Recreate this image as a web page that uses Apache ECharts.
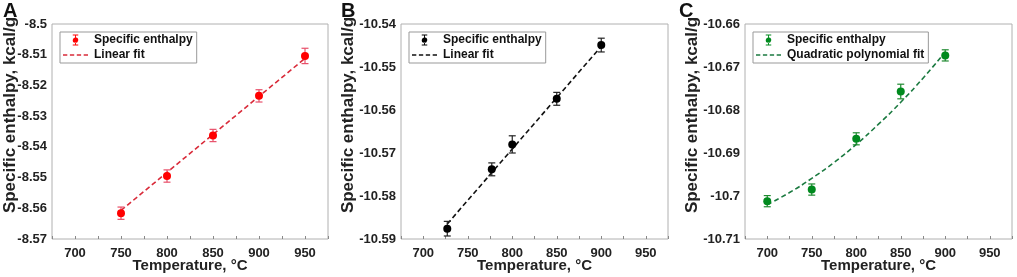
<!DOCTYPE html>
<html>
    <head>
        <meta charset="utf-8" />
        <title>ECharts</title>
        <script src="https://cdn.jsdelivr.net/npm/echarts@6/dist/echarts.min.js"></script>
    </head>
    <body style="margin:0">
        <div id="main" style="width: 1017px;height: 277px;"></div>
        <script type="text/javascript">
            const xTicks = [700, 750, 800, 850, 900, 950];

            // panel A
            const tempA = [750, 800, 850, 900, 950];
            const enthA = [-8.5616, -8.5495, -8.5363, -8.5234, -8.5104];
            const errA = [0.002, 0.002, 0.002, 0.002, 0.0025];
            const fitA = [[750, -8.5607], [950, -8.5112]];

            // panel B
            const tempB = [727, 777, 800, 850, 900];
            const enthB = [-10.5876, -10.5738, -10.568, -10.5574, -10.5449];
            const errB = [0.0017, 0.0015, 0.002, 0.0015, 0.0016];
            const fitB = [[727, -10.5865], [900, -10.5452]];

            // panel C
            const tempC = [700, 750, 800, 850, 900];
            const enthC = [-10.7012, -10.6985, -10.6867, -10.6757, -10.6673];
            const errC = [0.0013, 0.0013, 0.0014, 0.0017, 0.0013];
            const fitC = [[700, -10.702], [725, -10.6992], [750, -10.6959], [775, -10.6922], [800, -10.688],
                          [825, -10.6833], [850, -10.6782], [875, -10.6726], [900, -10.6665]];

            const myChart = echarts.init(document.getElementById('main'));

            const font = 'Liberation Sans, Arial, sans-serif';
            const dashIcon = 'path://M0,0h5v2h-5z M8,0h5v2h-5z M16,0h5v2h-5z M24,0h5v2h-5z';
            const markIcon = 'path://M3,0h6v1h-2.5v2.2a3,3 0 1 1 -1,0v-2.2h-2.5z M5.5,8.8v2.2h-2.5v1h6v-1h-2.5v-2.2z';

            const panels = [
                { left: 52, width: 276, ymin: -8.57, ymax: -8.5, temp: tempA, enth: enthA, err: errA, fit: fitA,
                  color: '#ff0000', errColor: '#e8506a', lineColor: '#d92b3a', fitName: 'Linear fit', letter: 'A', lx: 3, tx: 10 },
                { left: 401, width: 267, ymin: -10.59, ymax: -10.54, temp: tempB, enth: enthB, err: errB, fit: fitB,
                  color: '#000000', errColor: '#222222', lineColor: '#111111', fitName: 'Linear fit', letter: 'B', lx: 341, tx: 348 },
                { left: 745, width: 267, ymin: -10.71, ymax: -10.66, temp: tempC, enth: enthC, err: errC, fit: fitC,
                  color: '#008a1e', errColor: '#1f8a30', lineColor: '#1b7a40', fitName: 'Quadratic polynomial fit', letter: 'C', lx: 679, tx: 692 }
            ];

            const fmt = (v) => (+v.toFixed(2)).toString();

            const grid = [], xAxis = [], yAxis = [], series = [], legend = [], graphic = [];

            panels.forEach((p, i) => {
                grid.push({ left: p.left, top: 24, width: p.width, height: 215, show: true, borderColor: '#b0b0b0', borderWidth: 1,
                            backgroundColor: '#fff', outerBoundsMode: 'none', containLabel: false });
                xAxis.push({
                    type: 'value', gridIndex: i, min: 675, max: 975, interval: 25,
                    axisLine: { show: false },
                    axisTick: { show: true, inside: true, length: 3, lineStyle: { color: '#888' }, interval: 0 },
                    splitLine: { show: false },
                    axisLabel: {
                        color: '#222', fontFamily: font, fontWeight: 'bold', fontSize: 13, margin: 8,
                        formatter: (v) => xTicks.indexOf(v) >= 0 ? String(v) : ''
                    },
                    name: 'Temperature, °C', nameLocation: 'middle', nameGap: 19, nameMoveOverlap: false,
                    nameTextStyle: { color: '#222', fontFamily: font, fontWeight: 'bold', fontSize: 15 }
                });
                yAxis.push({
                    type: 'value', gridIndex: i, min: p.ymin, max: p.ymax, interval: 0.01,
                    axisLine: { show: false },
                    axisTick: { show: false },
                    splitLine: { show: false },
                    axisLabel: { color: '#222', fontFamily: font, fontWeight: 'bold', fontSize: 13, margin: 5, formatter: fmt },
                });
                series.push({
                    type: 'custom', xAxisIndex: i, yAxisIndex: i, silent: true, z: 4,
                    data: p.temp.map((t, k) => [t, p.enth[k] - p.err[k], p.enth[k] + p.err[k]]),
                    renderItem: (params, api) => {
                        const lo = api.coord([api.value(0), api.value(1)]);
                        const hi = api.coord([api.value(0), api.value(2)]);
                        const w = 3.5;
                        const st = { stroke: p.errColor, lineWidth: 1.2 };
                        return {
                            type: 'group', children: [
                                { type: 'line', shape: { x1: lo[0], y1: lo[1], x2: hi[0], y2: hi[1] }, style: st },
                                { type: 'line', shape: { x1: lo[0] - w, y1: lo[1], x2: lo[0] + w, y2: lo[1] }, style: st },
                                { type: 'line', shape: { x1: hi[0] - w, y1: hi[1], x2: hi[0] + w, y2: hi[1] }, style: st }
                            ]
                        };
                    }
                });
                series.push({
                    type: 'line', name: 'fit' + i, xAxisIndex: i, yAxisIndex: i, smooth: p.fit.length > 2,
                    data: p.fit, symbol: 'none', lineStyle: { color: p.lineColor, type: [5, 3], width: 1.6 },
                    itemStyle: { color: p.lineColor }, z: 3
                });
                series.push({
                    type: 'scatter', name: 'pts' + i, xAxisIndex: i, yAxisIndex: i,
                    data: p.temp.map((t, k) => [t, p.enth[k]]), symbolSize: 8,
                    itemStyle: { color: p.color, opacity: 1 }, z: 5
                });
                legend.push({
                    orient: 'vertical', left: p.left + 8, top: 32, itemGap: 3, itemWidth: 25, itemHeight: 11,
                    padding: [2, 4, 2, 3], borderColor: '#999', borderWidth: 1, backgroundColor: '#fff',
                    data: [
                        { name: 'pts' + i, icon: markIcon, itemStyle: { color: p.color } },
                        { name: 'fit' + i, icon: dashIcon, itemStyle: { color: p.lineColor } }
                    ],
                    formatter: (n) => n.indexOf('pts') === 0 ? 'Specific enthalpy' : p.fitName,
                    textStyle: { color: '#111', fontFamily: font, fontWeight: 'bold', fontSize: 12, padding: [0, 0, 0, 1] }
                });
                graphic.push({
                    type: 'text', left: p.lx, top: 1,
                    style: { text: p.letter, fill: '#111', font: 'bold 20px ' + font }
                });
                graphic.push({
                    type: 'text', x: p.tx, y: 115, rotation: Math.PI / 2, origin: [0, 0],
                    style: { text: 'Specific enthalpy, kcal/g', fill: '#222', font: 'bold 17px ' + font, align: 'center', verticalAlign: 'middle' }
                });
            });

            const option = {
                animation: false,
                grid: grid,
                xAxis: xAxis,
                yAxis: yAxis,
                series: series,
                legend: legend,
                graphic: graphic
            };
            myChart.setOption(option);
        </script>
    </body>
</html>
